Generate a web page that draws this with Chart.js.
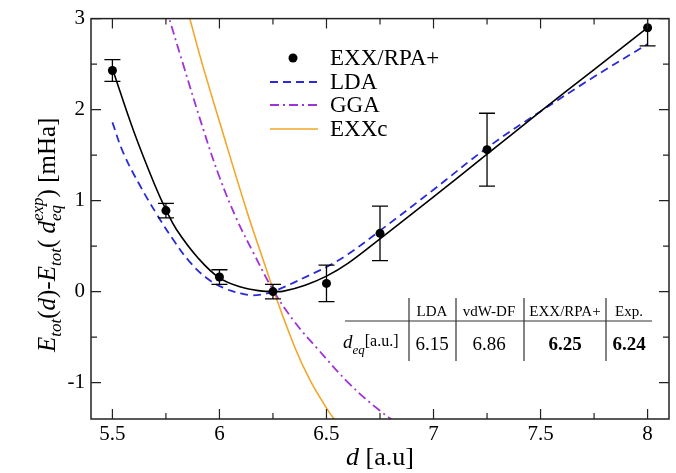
<!DOCTYPE html>
<html>
<head>
<meta charset="utf-8">
<script src="https://cdn.jsdelivr.net/npm/chart.js@4.4.1/dist/chart.umd.min.js"></script>
<style>
html, body { margin: 0; padding: 0; background: #fff; }
#wrap { width: 676px; height: 473px; position: relative; }
</style>
</head>
<body>
<div id="wrap"><canvas id="chart" width="676" height="473"></canvas></div>
<script>
// EXX/RPA+ points with error bars
var ptD = [5.5, 5.75, 6.0, 6.25, 6.5, 6.75, 7.25, 8.0];
var ptE = [2.43, 0.89, 0.16, 0.0, 0.09, 0.64, 1.56, 2.90];
var ptErr = [0.12, 0.08, 0.08, 0.08, 0.2, 0.3, 0.4, 0.2];

// fit through the EXX/RPA+ points
var fitD = [5.5, 5.6, 5.7, 5.75, 5.8, 5.9, 6.0, 6.1, 6.2, 6.25, 6.3, 6.4, 6.5, 6.6, 6.75, 7.0, 7.25, 7.5, 7.75, 8.0];
var fitE = [2.45, 1.76, 1.16, 0.9, 0.68, 0.37, 0.15, 0.05, 0.005, 0.0, 0.005, 0.07, 0.17, 0.31, 0.58, 1.04, 1.51, 1.98, 2.44, 2.9];

// LDA
var ldaD = [5.5, 5.55, 5.63, 5.71, 5.79, 5.86, 5.94, 6.02, 6.1, 6.15, 6.2, 6.25, 6.33, 6.42, 6.5, 6.6, 6.75, 7.0, 7.25, 7.5, 7.75, 8.0];
var ldaE = [1.86, 1.53, 1.16, 0.84, 0.55, 0.33, 0.15, 0.04, -0.02, -0.04, -0.03, 0.0, 0.08, 0.18, 0.27, 0.41, 0.67, 1.12, 1.58, 1.98, 2.36, 2.72];

// GGA
var ggaD = [5.75, 5.83, 5.925, 6.0, 6.08, 6.16, 6.25, 6.35, 6.455, 6.61, 6.75, 6.85];
var ggaE = [3.12, 2.5, 1.78, 1.26, 0.8, 0.42, 0.02, -0.33, -0.62, -1.02, -1.31, -1.48];

// EXXc
var exxcD = [5.85, 5.92, 6.0, 6.13, 6.21, 6.25, 6.35, 6.42, 6.5, 6.56];
var exxcE = [3.1, 2.5, 1.87, 0.87, 0.31, 0.03, -0.6, -0.96, -1.28, -1.48];

var xTicks = [5.5, 6, 6.5, 7, 7.5, 8];
var xMinor = [5.75, 6.25, 6.75, 7.25, 7.75];
var yTicks = [-1, 0, 1, 2, 3];
var yMinor = [-0.5, 0.5, 1.5, 2.5];

// inset table
var tableHead = ["LDA", "vdW-DF", "EXX/RPA+", "Exp."];
var tableVals = ["6.15", "6.86", "6.25", "6.24"];
var tableBold = [false, false, true, true];

var SERIF = "'Liberation Serif', 'DejaVu Serif', serif";

function xy(xs, ys) {
	return xs.map(function(v, i) { return { x: v, y: ys[i] }; });
}

// draws text parts one after another
function richText(ctx, parts, x, y, align) {
	var w = 0;
	parts.forEach(function(p) {
		ctx.font = p.font;
		if (p.stack) {
			w += Math.max(ctx.measureText(p.sup).width, ctx.measureText(p.sub).width);
		} else {
			w += ctx.measureText(p.t).width;
		}
	});
	var cx = align == "center" ? x - w / 2 : x;
	ctx.textAlign = "left";
	ctx.textBaseline = "alphabetic";
	parts.forEach(function(p) {
		ctx.font = p.font;
		if (p.stack) {
			ctx.fillText(p.sup, cx, y + p.supDy);
			ctx.fillText(p.sub, cx, y + p.subDy);
			cx += Math.max(ctx.measureText(p.sup).width, ctx.measureText(p.sub).width);
		} else {
			ctx.fillText(p.t, cx, y + (p.dy || 0));
			cx += ctx.measureText(p.t).width;
		}
	});
}

var decor = {
	id: "decor",
	afterDatasetsDraw: function(chart) {
		var ctx = chart.ctx, a = chart.chartArea;
		var sx = chart.scales.x, sy = chart.scales.y;

		// error bars
		ctx.save();
		ctx.beginPath();
		ctx.rect(a.left, a.top, a.right - a.left, a.bottom - a.top);
		ctx.clip();
		ctx.strokeStyle = "#000";
		ctx.lineWidth = 1.3;
		for (var i = 0; i < ptD.length; i++) {
			var px = sx.getPixelForValue(ptD[i]);
			var y1 = sy.getPixelForValue(ptE[i] + ptErr[i]);
			var y2 = sy.getPixelForValue(ptE[i] - ptErr[i]);
			ctx.beginPath();
			ctx.moveTo(px, y1); ctx.lineTo(px, y2);
			ctx.moveTo(px - 8, y1); ctx.lineTo(px + 8, y1);
			ctx.moveTo(px - 8, y2); ctx.lineTo(px + 8, y2);
			ctx.stroke();
		}
		ctx.restore();

		// frame
		ctx.save();
		ctx.strokeStyle = "#222";
		ctx.lineWidth = 1.5;
		ctx.strokeRect(a.left, a.top, a.right - a.left, a.bottom - a.top);

		// ticks pointing inward, all four sides
		ctx.lineWidth = 1.2;
		ctx.beginPath();
		function xt(v, len) {
			var p = sx.getPixelForValue(v);
			ctx.moveTo(p, a.bottom); ctx.lineTo(p, a.bottom - len);
			ctx.moveTo(p, a.top); ctx.lineTo(p, a.top + len);
		}
		function yt(v, len) {
			var p = sy.getPixelForValue(v);
			ctx.moveTo(a.left, p); ctx.lineTo(a.left + len, p);
			ctx.moveTo(a.right, p); ctx.lineTo(a.right - len, p);
		}
		xTicks.forEach(function(v) { xt(v, 10); });
		xMinor.forEach(function(v) { xt(v, 6); });
		yTicks.forEach(function(v) { yt(v, 10); });
		yMinor.forEach(function(v) { yt(v, 6); });
		ctx.stroke();
		ctx.restore();

		// legend
		ctx.save();
		var rows = [58, 82, 105, 129];
		var items = chart.data.datasets.filter(function(d) { return d.label; });
		items.forEach(function(ds, k) {
			var ly = rows[k];
			if (ds.showLine === false) {
				ctx.fillStyle = ds.backgroundColor;
				ctx.beginPath();
				ctx.arc(293, ly, 4.5, 0, Math.PI * 2);
				ctx.fill();
			} else {
				ctx.strokeStyle = ds.borderColor;
				ctx.lineWidth = ds.borderWidth;
				ctx.setLineDash(ds.borderDash || []);
				ctx.beginPath();
				ctx.moveTo(270, ly); ctx.lineTo(318, ly);
				ctx.stroke();
				ctx.setLineDash([]);
			}
			ctx.fillStyle = "#000";
			ctx.font = "23px " + SERIF;
			ctx.textAlign = "left";
			ctx.textBaseline = "middle";
			ctx.fillText(ds.label, 330, ly + 1);
		});
		ctx.restore();

		// inset table
		ctx.save();
		ctx.strokeStyle = "#333";
		ctx.lineWidth = 1.2;
		ctx.beginPath();
		ctx.moveTo(345, 321); ctx.lineTo(652, 321);
		[409, 456, 524, 606].forEach(function(vx) {
			ctx.moveTo(vx, 298); ctx.lineTo(vx, 361);
		});
		ctx.stroke();
		ctx.fillStyle = "#000";
		ctx.textAlign = "center";
		ctx.textBaseline = "alphabetic";
		var colX = [432, 489, 565, 629];
		tableHead.forEach(function(t, k) {
			ctx.font = "15px " + SERIF;
			ctx.fillText(t, colX[k], 316);
		});
		tableVals.forEach(function(t, k) {
			ctx.font = (tableBold[k] ? "bold " : "") + "19px " + SERIF;
			ctx.fillText(t, colX[k], 350);
		});
		richText(ctx, [
			{ t: "d", font: "italic 19px " + SERIF },
			{ t: "eq", font: "italic 13px " + SERIF, dy: 6 },
			{ t: "[a.u.]", font: "16px " + SERIF, dy: -2 }
		], 343, 348, "left");
		ctx.restore();
	},
	afterDraw: function(chart) {
		var ctx = chart.ctx, a = chart.chartArea;
		ctx.save();
		ctx.fillStyle = "#000";
		// x title
		richText(ctx, [
			{ t: "d", font: "italic 26px " + SERIF },
			{ t: " [a.u]", font: "26px " + SERIF }
		], (a.left + a.right) / 2, 465, "center");
		// y title
		ctx.translate(55, (a.top + a.bottom) / 2 + 16);
		ctx.rotate(-Math.PI / 2);
		var it = "italic 25px " + SERIF, rg = "25px " + SERIF, sm = "italic 17px " + SERIF;
		richText(ctx, [
			{ t: "E", font: it },
			{ t: "tot", font: sm, dy: 6 },
			{ t: "(", font: rg },
			{ t: "d", font: it },
			{ t: ")-", font: rg },
			{ t: "E", font: it },
			{ t: "tot", font: sm, dy: 6 },
			{ t: "( ", font: rg },
			{ t: "d", font: it },
			{ stack: true, sup: "exp", sub: "eq", font: sm, supDy: -12, subDy: 6 },
			{ t: ") [mHa]", font: rg }
		], 0, 0, "center");
		ctx.restore();
	}
};

var ctx = document.getElementById("chart").getContext("2d");
new Chart(ctx, {
	type: "line",
	data: {
		datasets: [{
			data: xy(fitD, fitE),
			borderColor: "#000",
			borderWidth: 1.6,
			pointRadius: 0,
			tension: 0.4,
			fill: false
		}, {
			label: "EXX/RPA+",
			data: xy(ptD, ptE),
			showLine: false,
			pointRadius: 4.5,
			pointBackgroundColor: "#000",
			backgroundColor: "#000",
			borderColor: "#000",
			pointBorderWidth: 0
		}, {
			label: "LDA",
			data: xy(ldaD, ldaE),
			borderColor: "#2a2ad8",
			borderWidth: 1.8,
			borderDash: [8, 5],
			pointRadius: 0,
			tension: 0.4,
			fill: false
		}, {
			label: "GGA",
			data: xy(ggaD, ggaE),
			borderColor: "#a033d6",
			borderWidth: 1.8,
			borderDash: [9, 4, 2, 4],
			pointRadius: 0,
			tension: 0.4,
			fill: false
		}, {
			label: "EXXc",
			data: xy(exxcD, exxcE),
			borderColor: "#f2a62a",
			borderWidth: 1.6,
			pointRadius: 0,
			tension: 0.4,
			fill: false
		}]
	},
	options: {
		responsive: false,
		animation: false,
		layout: { padding: { top: 14, right: 7, left: 0, bottom: 0 } },
		plugins: {
			legend: { display: false },
			tooltip: { enabled: false }
		},
		scales: {
			x: {
				type: "linear",
				min: 5.4,
				max: 8.1,
				afterBuildTicks: function(s) { s.ticks = xTicks.map(function(v) { return { value: v }; }); },
				afterFit: function(s) { s.height = 54; },
				grid: { display: false, drawTicks: false },
				border: { display: false },
				ticks: {
					padding: 3,
					color: "#000",
					maxRotation: 0,
					autoSkip: false,
					font: { family: SERIF, size: 21 },
					callback: function(v) { return String(v); }
				}
			},
			y: {
				min: -1.4,
				max: 3,
				afterBuildTicks: function(s) { s.ticks = yTicks.map(function(v) { return { value: v }; }); },
				afterFit: function(s) { s.width = 91; },
				grid: { display: false, drawTicks: false },
				border: { display: false },
				ticks: {
					padding: 6,
					color: "#000",
					font: { family: SERIF, size: 21 },
					callback: function(v) { return String(v); }
				}
			}
		}
	},
	plugins: [decor]
});
</script>
</body>
</html>
